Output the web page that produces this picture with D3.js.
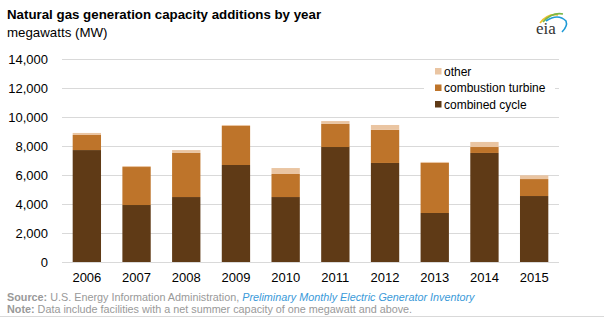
<!DOCTYPE html>
<html><head><meta charset="utf-8">
<script src="https://cdn.jsdelivr.net/npm/d3@7"></script>
<style>body{margin:0;background:#fff}svg{display:block;font-family:"Liberation Sans",Arial,sans-serif}</style>
</head><body><svg id="c" width="613" height="322"></svg>
<script>
const years = ["2006","2007","2008","2009","2010","2011","2012","2013","2014","2015"];
const combinedCycle = [7720,3930,4480,6690,4480,7930,6830,3380,7520,4550];
const combustionTurbine = [1040,2620,3040,2690,1590,1590,2280,3450,410,1170];
const other = [140,70,200,70,410,200,340,70,350,260];
const yTicks = [0,2000,4000,6000,8000,10000,12000,14000];
const seriesNames = ["combined cycle","combustion turbine","other"];
const colors = ["#5f3a16","#be742a","#eac5a2"];

const svg = d3.select("#c");
const x = d3.scaleBand().domain(years).range([62,559]).paddingInner(0.43).paddingOuter(0.215);
const y = d3.scaleLinear().domain([0,14000]).range([262,59]);

// title
svg.append("text").attr("x",7).attr("y",19).attr("font-size",13.3).attr("font-weight","bold").attr("fill","#000").text("Natural gas generation capacity additions by year");
svg.append("text").attr("x",7).attr("y",37).attr("font-size",13.3).attr("fill","#000").text("megawatts (MW)");

// grid + y axis
const yAxis = d3.axisLeft(y).tickValues(yTicks).tickSize(-(559-62)).tickPadding(14).tickFormat(d3.format(","));
const ga = svg.append("g").attr("transform","translate(62,0)").call(yAxis);
ga.select(".domain").remove();
ga.selectAll(".tick line").attr("stroke","#d9d9d9").attr("stroke-width",1.2);
ga.selectAll(".tick text").attr("font-size",13).attr("fill","#000").attr("font-family","Liberation Sans,Arial,sans-serif");

// bars
const data = years.map((yr,i)=>({year:yr, "combined cycle":combinedCycle[i], "combustion turbine":combustionTurbine[i], "other":other[i]}));
const stack = d3.stack().keys(seriesNames)(data);
svg.append("g").selectAll("g").data(stack).join("g").attr("fill",(d,i)=>colors[i])
  .selectAll("rect").data(d=>d).join("rect")
  .attr("x",d=>x(d.data.year)).attr("width",x.bandwidth())
  .attr("y",d=>y(d[1])).attr("height",d=>y(d[0])-y(d[1]));

// x axis
const xAxis = d3.axisBottom(x).tickSize(0).tickPadding(11);
const gx = svg.append("g").attr("transform","translate(0,262)").call(xAxis);
gx.select(".domain").remove();
gx.selectAll(".tick text").attr("font-size",13).attr("fill","#000").attr("font-family","Liberation Sans,Arial,sans-serif");

// legend
const lg = svg.append("g");
lg.append("rect").attr("x",424).attr("y",62).attr("width",131).attr("height",50).attr("fill","#fff");
const legOrder = [2,1,0];
legOrder.forEach((si,j)=>{
  const cy = 71 + j*16.5;
  lg.append("rect").attr("x",435).attr("y",cy-3).attr("width",6.5).attr("height",6.5).attr("fill",colors[si]);
  lg.append("text").attr("x",444).attr("y",cy+4.5).attr("font-size",12).attr("fill","#000").text(seriesNames[si]);
});

// logo
const logo = svg.append("g");
logo.append("path").attr("d","M540,23 Q548,13 558,15").attr("fill","none").attr("stroke","#f2c12e").attr("stroke-width",1.6);
logo.append("path").attr("d","M543,22 Q552,12 563,14").attr("fill","none").attr("stroke","#7ab648").attr("stroke-width",1.6);
logo.append("path").attr("d","M546,21 Q558,13 566,21 Q568,26 562,32").attr("fill","none").attr("stroke","#1e9ad6").attr("stroke-width",1.6);
logo.append("text").attr("x",536).attr("y",34).attr("font-size",17).attr("font-family","Liberation Serif,Times New Roman,serif").attr("fill","#333").text("eia");

// footer
const f1 = svg.append("text").attr("x",7).attr("y",301).attr("font-size",10.8);
f1.append("tspan").attr("font-weight","bold").attr("fill","#999").text("Source: ");
f1.append("tspan").attr("fill","#999").text("U.S. Energy Information Administration, ");
f1.append("tspan").attr("fill","#3a9ad9").attr("font-style","italic").text("Preliminary Monthly Electric Generator Inventory");
const f2 = svg.append("text").attr("x",7).attr("y",313).attr("font-size",10.8);
f2.append("tspan").attr("font-weight","bold").attr("fill","#999").text("Note: ");
f2.append("tspan").attr("fill","#999").text("Data include facilities with a net summer capacity of one megawatt and above.");
svg.append("line").attr("x1",0).attr("x2",604).attr("y1",316.5).attr("y2",316.5).attr("stroke","#d9d9d9").attr("stroke-width",1);
</script></body></html>
